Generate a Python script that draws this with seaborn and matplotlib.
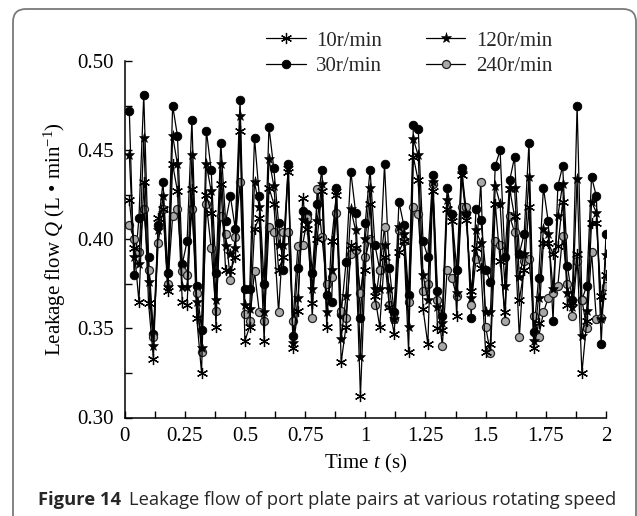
import numpy as np
import pandas as pd
import matplotlib
matplotlib.use("Agg")
import matplotlib.pyplot as plt
import seaborn as sns
from matplotlib.patches import FancyBboxPatch
from matplotlib.ticker import MultipleLocator, FixedLocator, FixedFormatter
from matplotlib.lines import Line2D

# ---------------- data ----------------
time_s = [round(0.02 * i, 2) for i in range(1, 101)]

q30 = [0.472, 0.380, 0.412, 0.481, 0.390, 0.347, 0.408, 0.432, 0.381, 0.475,
       0.458, 0.386, 0.399, 0.467, 0.374, 0.349, 0.461, 0.439, 0.381, 0.454,
       0.410, 0.424, 0.406, 0.478, 0.372, 0.372, 0.457, 0.424, 0.375, 0.463,
       0.440, 0.409, 0.383, 0.442, 0.346, 0.384, 0.416, 0.414, 0.381, 0.420,
       0.439, 0.369, 0.365, 0.429, 0.358, 0.387, 0.438, 0.415, 0.356, 0.409,
       0.439, 0.397, 0.383, 0.442, 0.384, 0.359, 0.421, 0.408, 0.369, 0.464,
       0.462, 0.399, 0.390, 0.436, 0.371, 0.357, 0.429, 0.414, 0.383, 0.440,
       0.415, 0.356, 0.417, 0.411, 0.383, 0.376, 0.441, 0.450, 0.390, 0.433,
       0.446, 0.392, 0.403, 0.454, 0.348, 0.378, 0.429, 0.410, 0.354, 0.430,
       0.441, 0.385, 0.366, 0.475, 0.366, 0.374, 0.435, 0.424, 0.341, 0.403]

q120 = [0.447, 0.390, 0.386, 0.457, 0.376, 0.340, 0.405, 0.424, 0.373, 0.458,
        0.442, 0.373, 0.373, 0.447, 0.365, 0.339, 0.442, 0.427, 0.366, 0.442,
        0.396, 0.392, 0.395, 0.469, 0.363, 0.361, 0.432, 0.418, 0.359, 0.445,
        0.430, 0.397, 0.397, 0.440, 0.342, 0.367, 0.411, 0.409, 0.372, 0.410,
        0.431, 0.359, 0.383, 0.427, 0.344, 0.368, 0.417, 0.405, 0.334, 0.400,
        0.429, 0.372, 0.372, 0.397, 0.372, 0.355, 0.407, 0.403, 0.351, 0.456,
        0.447, 0.380, 0.366, 0.432, 0.362, 0.353, 0.422, 0.413, 0.370, 0.437,
        0.414, 0.367, 0.405, 0.398, 0.359, 0.359, 0.430, 0.420, 0.374, 0.429,
        0.429, 0.379, 0.392, 0.435, 0.343, 0.367, 0.406, 0.403, 0.372, 0.413,
        0.431, 0.370, 0.362, 0.434, 0.346, 0.360, 0.421, 0.415, 0.355, 0.391]

q10 = [0.422, 0.395, 0.365, 0.432, 0.364, 0.333, 0.412, 0.417, 0.371, 0.442,
       0.427, 0.365, 0.363, 0.428, 0.356, 0.325, 0.425, 0.415, 0.351, 0.431,
       0.383, 0.382, 0.390, 0.461, 0.343, 0.351, 0.406, 0.412, 0.343, 0.429,
       0.420, 0.383, 0.390, 0.438, 0.339, 0.360, 0.423, 0.406, 0.364, 0.400,
       0.427, 0.351, 0.399, 0.425, 0.331, 0.351, 0.397, 0.395, 0.312, 0.383,
       0.420, 0.368, 0.351, 0.390, 0.362, 0.347, 0.393, 0.399, 0.337, 0.446,
       0.433, 0.361, 0.341, 0.427, 0.350, 0.349, 0.417, 0.410, 0.357, 0.436,
       0.411, 0.371, 0.395, 0.384, 0.337, 0.341, 0.420, 0.388, 0.359, 0.428,
       0.413, 0.366, 0.383, 0.418, 0.339, 0.353, 0.398, 0.398, 0.392, 0.396,
       0.421, 0.363, 0.365, 0.392, 0.325, 0.354, 0.409, 0.409, 0.368, 0.380]

q240 = [0.408, 0.400, 0.393, 0.417, 0.383, 0.345, 0.398, 0.417, 0.375, 0.413,
        0.417, 0.382, 0.380, 0.417, 0.370, 0.337, 0.420, 0.395, 0.360, 0.413,
        0.403, 0.377, 0.401, 0.432, 0.358, 0.354, 0.382, 0.359, 0.354, 0.407,
        0.404, 0.359, 0.404, 0.404, 0.354, 0.396, 0.397, 0.412, 0.356, 0.428,
        0.401, 0.375, 0.379, 0.415, 0.360, 0.356, 0.392, 0.394, 0.370, 0.390,
        0.400, 0.363, 0.383, 0.407, 0.363, 0.355, 0.405, 0.399, 0.365, 0.418,
        0.414, 0.371, 0.375, 0.431, 0.366, 0.340, 0.383, 0.378, 0.368, 0.418,
        0.418, 0.363, 0.389, 0.432, 0.351, 0.336, 0.399, 0.397, 0.354, 0.413,
        0.404, 0.345, 0.388, 0.389, 0.357, 0.345, 0.359, 0.367, 0.370, 0.374,
        0.402, 0.375, 0.357, 0.388, 0.366, 0.350, 0.393, 0.355, 0.356, 0.374]

series_labels = ["10r/min", "30r/min", "120r/min", "240r/min"]
x_tick_values = [0, 0.25, 0.5, 0.75, 1, 1.25, 1.5, 1.75, 2]
x_tick_labels = ["0", "0.25", "0.5", "0.75", "1", "1.25", "1.5", "1.75", "2"]
y_tick_values = [0.30, 0.35, 0.40, 0.45, 0.50]
y_tick_labels = ["0.30", "0.35", "0.40", "0.45", "0.50"]

# ---------------- style ----------------
sns.set_style("ticks")
plt.rcParams["font.family"] = ["Liberation Serif", "DejaVu Serif"]
plt.rcParams["mathtext.fontset"] = "custom"
plt.rcParams["mathtext.rm"] = "Liberation Serif"
plt.rcParams["mathtext.it"] = "Liberation Serif:italic"
plt.rcParams["mathtext.bf"] = "Liberation Serif:bold"

W, H = 637, 516
fig = plt.figure(figsize=(W / 100, H / 100), dpi=100)
fig.patch.set_facecolor("white")

left_px, right_px, top_px, bottom_px = 124.5, 606, 61, 417.5
ax = fig.add_axes([left_px / W, 1 - bottom_px / H,
                   (right_px - left_px) / W, (bottom_px - top_px) / H])
ax.set_facecolor("white")

df = pd.DataFrame({"t": time_s, "q10": q10, "q30": q30, "q120": q120, "q240": q240})

styles = {
    "q30": dict(marker="o", markersize=6.2, markerfacecolor="black",
                markeredgecolor="black", markeredgewidth=0.6),
    "q240": dict(marker="o", markersize=5.8, markerfacecolor="#a8a8a8",
                 markeredgecolor="#222222", markeredgewidth=0.9),
    "q120": dict(marker="*", markersize=8.0, markerfacecolor="black",
                 markeredgecolor="black", markeredgewidth=0.4),
    "q10": dict(marker=(6, 2, 0), markersize=8.0, markerfacecolor="black",
                markeredgecolor="black", markeredgewidth=0.9),
}
for col in ["q30", "q240", "q120", "q10"]:
    sns.lineplot(data=df, x="t", y=col, ax=ax, color="black", linewidth=0.9,
                 estimator=None, sort=False, legend=False, **styles[col])

ax.set_xlim(0, 2)
ax.set_ylim(0.30, 0.50)
ax.xaxis.set_major_locator(FixedLocator(x_tick_values))
ax.xaxis.set_major_formatter(FixedFormatter(x_tick_labels))
ax.xaxis.set_minor_locator(MultipleLocator(0.125))
ax.yaxis.set_major_locator(FixedLocator(y_tick_values))
ax.yaxis.set_major_formatter(FixedFormatter(y_tick_labels))
ax.yaxis.set_minor_locator(MultipleLocator(0.025))
ax.tick_params(which="both", direction="in", length=5, width=1.0, color="black",
               labelsize=15, labelcolor="black")
ax.tick_params(axis="x", which="both", pad=7)
ax.tick_params(axis="y", which="both", pad=8)
for s in ["top", "right"]:
    ax.spines[s].set_visible(False)
for s in ["left", "bottom"]:
    ax.spines[s].set_color("black")
    ax.spines[s].set_linewidth(1.1)

ax.set_xlabel(r"Time $t$ (s)", fontsize=15, labelpad=4, color="black")
ax.set_ylabel(r"Leakage flow $Q$ (L • min$^{-1}$)", fontsize=15, labelpad=6, color="black")

# legend
handles = [
    Line2D([], [], color="black", linewidth=0.9, **styles["q10"]),
    Line2D([], [], color="black", linewidth=0.9, **styles["q30"]),
    Line2D([], [], color="black", linewidth=0.9, **styles["q120"]),
    Line2D([], [], color="black", linewidth=0.9, **styles["q240"]),
]
fig.legend(handles, series_labels, ncol=2, loc="upper left",
           bbox_to_anchor=(266 / W, 1 - 31 / H), frameon=False, fontsize=15,
           handlelength=1.9, handletextpad=0.5, columnspacing=2.1,
           labelspacing=0.28, borderpad=0, borderaxespad=0)

# rounded border
border = FancyBboxPatch((13 / 100, -0.3), (636 - 13) / 100, (H - 9) / 100 + 0.3,
                        boxstyle="round,pad=0,rounding_size=0.13",
                        transform=fig.dpi_scale_trans, facecolor="none",
                        edgecolor="#7a7a7a", linewidth=1.3, clip_on=False)
fig.patches.append(border)

# caption
cap_y = 1 - 500 / H
t1 = fig.text(38 / W, cap_y, "Figure 14", fontsize=13.2, fontweight="bold",
              family=["Open Sans", "DejaVu Sans"], va="center", ha="left")
fig.canvas.draw()
r = fig.canvas.get_renderer()
bb = t1.get_window_extent(renderer=r)
fig.text((bb.x1 + 8) / W, cap_y, "Leakage flow of port plate pairs at various rotating speed",
         fontsize=13.2, family=["Open Sans", "DejaVu Sans"], va="center", ha="left")

fig.savefig("out.png", dpi=100, facecolor="white")
